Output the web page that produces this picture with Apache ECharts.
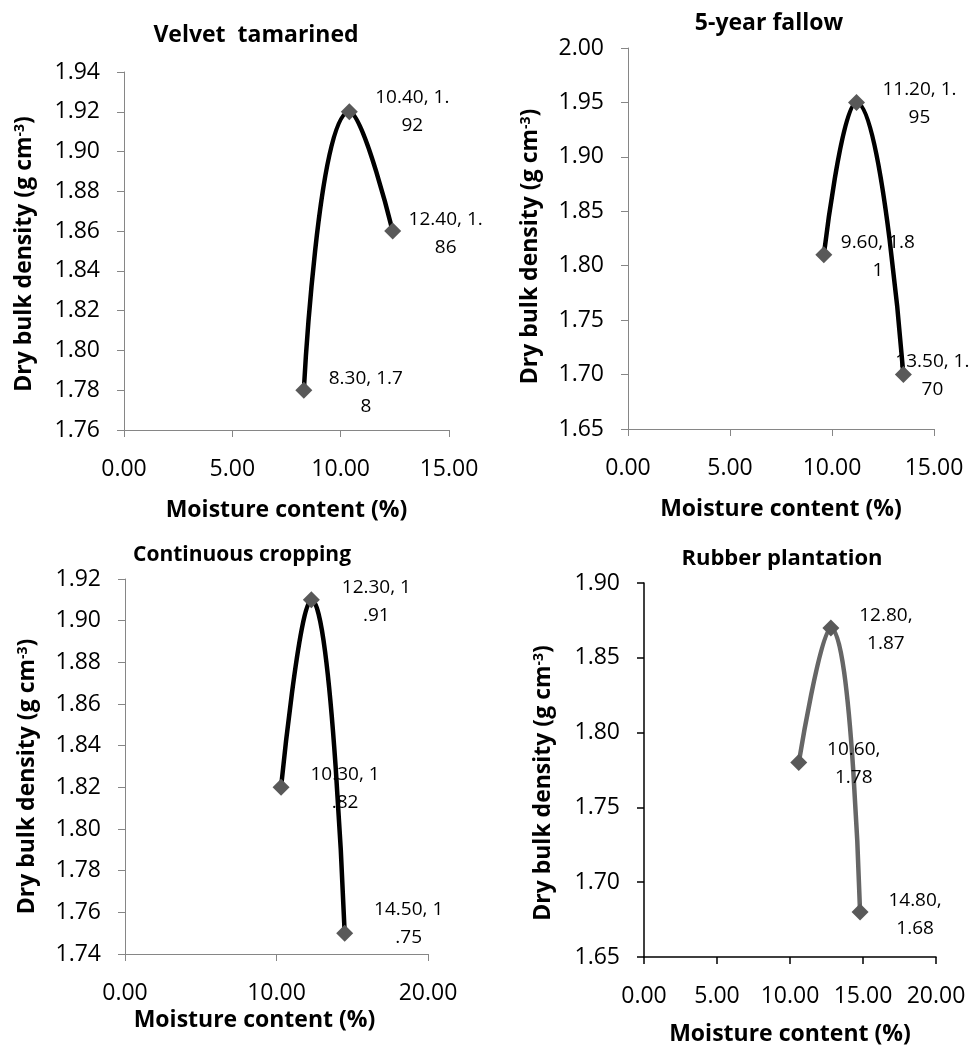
<!DOCTYPE html>
<html>
<head>
<meta charset="utf-8">
<title>Dry bulk density vs moisture content</title>
<script src="https://cdn.jsdelivr.net/npm/echarts@6/dist/echarts.min.js"></script>
<style>html,body{margin:0;padding:0;background:#fff}</style>
</head>
<body>
<div id="main" style="width:972px;height:1052px"></div>
<script>
// values
var titles = ['Velvet  tamarined', '5-year fallow', 'Continuous cropping', 'Rubber plantation'];

var moistVelvet = [8.3, 10.4, 12.4];
var densVelvet = [1.78, 1.92, 1.86];

var moistFallow = [9.6, 11.2, 13.5];
var densFallow = [1.81, 1.95, 1.70];

var moistCropping = [10.3, 12.3, 14.5];
var densCropping = [1.82, 1.91, 1.75];

var moistRubber = [10.6, 12.8, 14.8];
var densRubber = [1.78, 1.87, 1.68];

// axis ranges / tick steps
var yMin = [1.76, 1.65, 1.74, 1.65];
var yMax = [1.94, 2.00, 1.92, 1.90];
var yStep = [0.02, 0.05, 0.02, 0.05];
var xMax = [15, 15, 20, 20];
var xStep = [5, 5, 10, 5];
// Excel wrapped the "x, y" labels after this many characters
var wrapAt = [9, 9, 8, 6];

var FONT = '"Open Sans", "Noto Sans", sans-serif';

// layout (pixels)
var grids = [
    {left: 124, top: 72, width: 325, height: 358},
    {left: 628, top: 48, width: 306, height: 381},
    {left: 125, top: 579, width: 303, height: 375},
    {left: 644, top: 583, width: 292, height: 374}
];
var titlePos = [[256, 35], [769, 23], [242, 555], [782, 559]];
var titleSize = [23, 23, 21, 22];
var yNameGap = [88, 86, 86, 89];
var yNamePad = [[0, 6, 0, 0], [0, 16, 0, 0], [0, 20, 0, 0], [0, 26, 0, 0]];
var xNameGap = [69, 69, 55, 66];
var xNamePad = [[0, 0, 0, 0], [0, 0, 0, 0], [0, 44, 0, 0], [0, 0, 0, 0]];
// label centre offsets from each point
var labelShift = [
    [[62, 2], [63, 0], [53, 2]],
    [[54, 2], [63, 1], [29, 1]],
    [[64, 1], [65, 2], [64, -10]],
    [[55, 1], [55, 2], [55, 2]]
];
var lineColor = ['#000', '#000', '#000', '#666'];
var axisColor = ['#868686', '#868686', '#868686', '#000'];

var xs = [moistVelvet, moistFallow, moistCropping, moistRubber];
var ys = [densVelvet, densFallow, densCropping, densRubber];

function pointLabel(x, y, n) {
    var s = x.toFixed(2) + ', ' + y.toFixed(2);
    return s.slice(0, n) + '\n' + s.slice(n).trim();
}

var option = {
    backgroundColor: '#fff',
    animation: false,
    title: [],
    grid: [],
    xAxis: [],
    yAxis: [],
    series: []
};

var SYM = 17;

for (var i = 0; i < 4; i++) {
    option.grid.push(grids[i]);
    option.title.push({
        text: titles[i],
        left: titlePos[i][0],
        top: titlePos[i][1],
        textAlign: 'center',
        textVerticalAlign: 'middle',
        padding: 0,
        textStyle: {fontFamily: FONT, fontWeight: 'bold', fontSize: titleSize[i], color: '#000'}
    });
    var axLine = {show: true, lineStyle: {color: axisColor[i], width: i === 3 ? 1.5 : 1}};
    var axTick = {show: true, length: 7, lineStyle: {color: axisColor[i], width: i === 3 ? 1.5 : 1}};
    option.xAxis.push({
        type: 'value',
        gridIndex: i,
        min: 0,
        max: xMax[i],
        interval: xStep[i],
        axisLine: axLine,
        axisTick: axTick,
        splitLine: {show: false},
        axisLabel: {
            margin: 28,
            fontFamily: FONT, fontSize: 23, color: '#000',
            formatter: function (v) { return v.toFixed(2); }
        },
        name: 'Moisture content (%)',
        nameLocation: 'middle',
        nameGap: xNameGap[i],
        nameTextStyle: {fontFamily: FONT, fontWeight: 'bold', fontSize: 23, color: '#000', padding: xNamePad[i]}
    });
    option.yAxis.push({
        type: 'value',
        gridIndex: i,
        min: yMin[i],
        max: yMax[i],
        interval: yStep[i],
        axisLine: axLine,
        axisTick: axTick,
        splitLine: {show: false},
        axisLabel: {
            margin: 24,
            fontFamily: FONT, fontSize: 23, color: '#000',
            formatter: function (v) { return v.toFixed(2); }
        },
        name: '{a|Dry bulk density (g cm}{s|-3}{a|)}',
        nameLocation: 'middle',
        nameGap: yNameGap[i],
        nameRotate: 90,
        nameTextStyle: {
            padding: yNamePad[i],
            rich: {
                a: {fontFamily: FONT, fontWeight: 'bold', fontSize: 23, color: '#000'},
                s: {fontFamily: FONT, fontWeight: 'bold', fontSize: 14, color: '#000', verticalAlign: 'top'}
            }
        }
    });
    var pts = [];
    for (var j = 0; j < xs[i].length; j++) {
        pts.push({
            value: [xs[i][j], ys[i][j]],
            label: {position: [labelShift[i][j][0] + SYM / 2, labelShift[i][j][1] + SYM / 2]}
        });
    }
    (function (n) {
        option.series.push({
            type: 'line',
            xAxisIndex: i,
            yAxisIndex: i,
            smooth: 0.5,
            data: pts,
            symbol: 'diamond',
            symbolSize: SYM,
            lineStyle: {color: lineColor[i], width: 4.5},
            itemStyle: {color: '#595959'},
            label: {
                show: true,
                align: 'center',
                verticalAlign: 'middle',
                fontFamily: FONT,
                fontSize: 19,
                lineHeight: 28,
                color: '#000',
                formatter: function (p) { return pointLabel(p.value[0], p.value[1], n); }
            },
            z: 3
        });
    })(wrapAt[i]);
}

var myChart = echarts.init(document.getElementById('main'));
myChart.setOption(option);
</script>
</body>
</html>
